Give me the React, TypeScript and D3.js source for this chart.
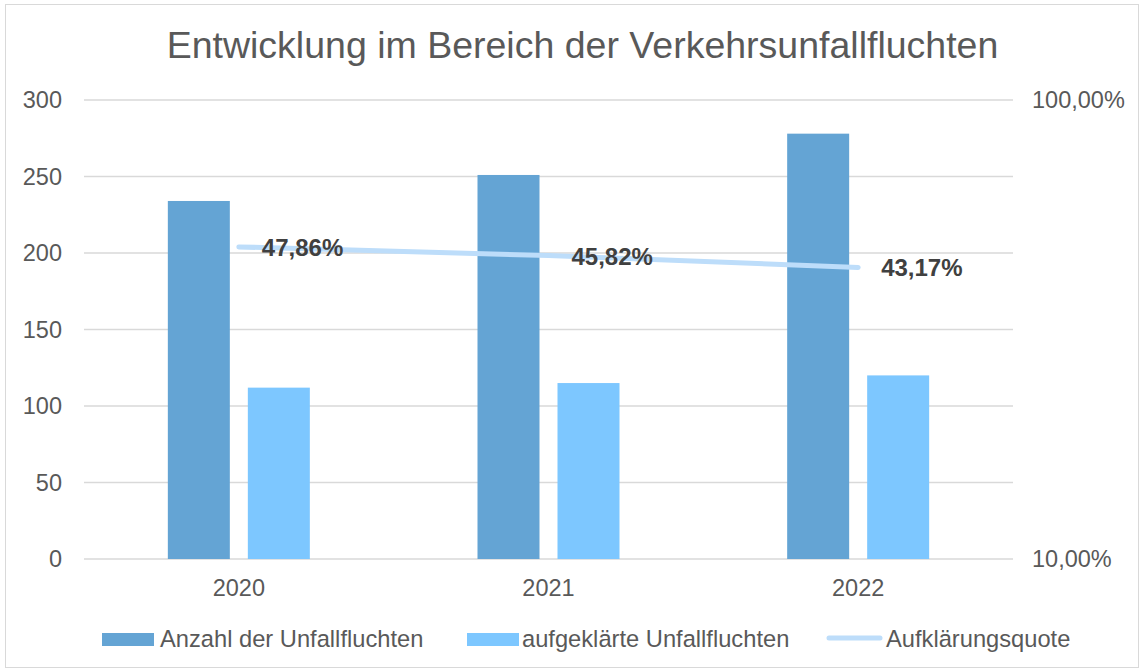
import React from "react";
import * as d3 from "d3";

const years = ["2020", "2021", "2022"];
const anzahl = [234, 251, 278];
const aufgeklaert = [112, 115, 120];
const quote = [47.86, 45.82, 43.17];
const quoteLabels = ["47,86%", "45,82%", "43,17%"];
const leftTicks = [0, 50, 100, 150, 200, 250, 300];
const rightTicks = [10, 100];
const seriesNames = ["Anzahl der Unfallfluchten", "aufgeklärte Unfallfluchten", "Aufklärungsquote"];

const W = 1145, H = 672;
const plot = { left: 84, right: 1013, top: 100, bottom: 559 };
const C_DARK = "#64A4D4";
const C_LIGHT = "#7DC7FF";
const C_LINE = "#BDDDFA";
const TXT = "#595959";
const FONT = "'Liberation Sans', Arial, sans-serif";
const FS = 23.5;

export default function App() {
  const x = d3.scaleBand().domain(years).range([plot.left, plot.right]).padding(0);
  const y = d3.scaleLinear().domain([0, 300]).range([plot.bottom, plot.top]);
  const yr = d3.scaleLog().domain([10, 100]).range([plot.bottom, plot.top]);
  const bw = 62, gap = 18;
  const cx = (yv: string) => (x(yv) as number) + x.bandwidth() / 2;
  const line = d3.line<number>().x((_, i) => cx(years[i])).y((d) => yr(d));
  const fmtPct = (v: number) => v.toFixed(2).replace(".", ",") + "%";

  return (
    <svg width={W} height={H} style={{ position: "absolute", left: 0, top: 0 }} fontFamily={FONT}>
      <rect x={0} y={0} width={W} height={H} fill="#fff" />
      <rect x={5.5} y={4.5} width={1133} height={663} fill="#fff" stroke="#d9d9d9" strokeWidth={1} />
      <text x={582.5} y={58} textAnchor="middle" fontSize={37.5} fill={TXT}>
        Entwicklung im Bereich der Verkehrsunfallfluchten
      </text>
      {leftTicks.map((t) => (
        <g key={t}>
          <line x1={plot.left} x2={plot.right} y1={y(t)} y2={y(t)} stroke="#d9d9d9" strokeWidth={1.5} />
          <text x={62} y={y(t) + 8} textAnchor="end" fontSize={FS} fill={TXT}>{t}</text>
        </g>
      ))}
      {rightTicks.map((t) => (
        <text key={t} x={1032} y={yr(t) + 8} fontSize={FS} fill={TXT}>{fmtPct(t)}</text>
      ))}
      {years.map((yv, i) => (
        <g key={yv}>
          <rect x={cx(yv) - gap / 2 - bw} y={y(anzahl[i])} width={bw} height={y(0) - y(anzahl[i])} fill={C_DARK} />
          <rect x={cx(yv) + gap / 2} y={y(aufgeklaert[i])} width={bw} height={y(0) - y(aufgeklaert[i])} fill={C_LIGHT} />
          <text x={cx(yv)} y={596} textAnchor="middle" fontSize={FS} fill={TXT}>{yv}</text>
        </g>
      ))}
      <path d={line(quote) || ""} fill="none" stroke={C_LINE} strokeWidth={5} strokeLinecap="round" />
      {years.map((yv, i) => (
        <text key={yv} x={cx(yv) + 23} y={yr(quote[i]) + 9} fontSize={24} fontWeight="bold" fill="#404040">
          {quoteLabels[i]}
        </text>
      ))}
      <g fontSize={23.7} fill={TXT}>
        <rect x={102} y={633} width={52} height={13} fill={C_DARK} />
        <text x={160} y={647}>{seriesNames[0]}</text>
        <rect x={467} y={633} width={52} height={13} fill={C_LIGHT} />
        <text x={522} y={647}>{seriesNames[1]}</text>
        <line x1={829} x2={880} y1={638} y2={638} stroke={C_LINE} strokeWidth={5} strokeLinecap="round" />
        <text x={886} y={647}>{seriesNames[2]}</text>
      </g>
    </svg>
  );
}
